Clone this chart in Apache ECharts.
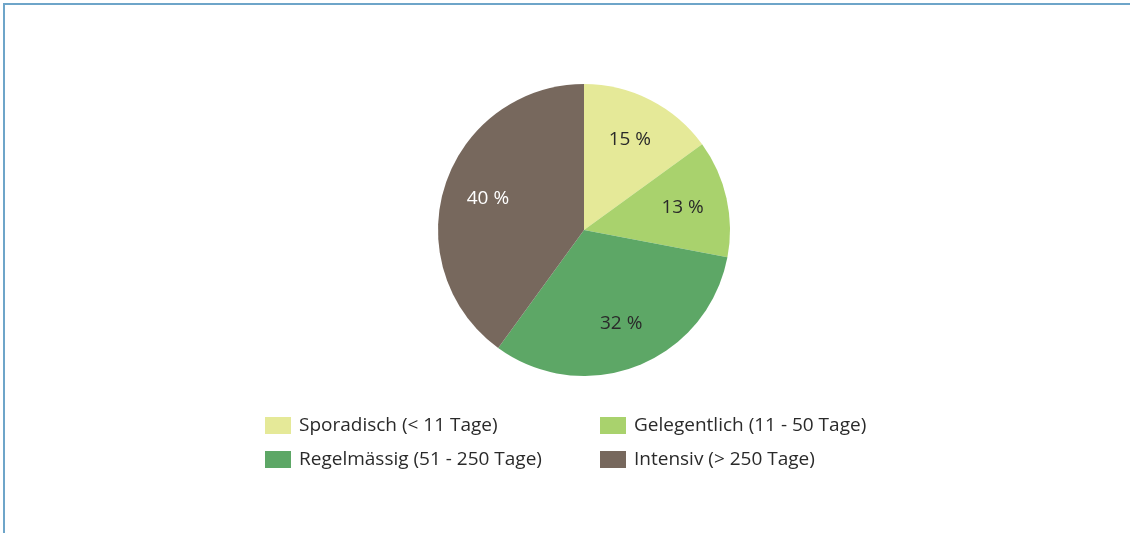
<!DOCTYPE html>
<html>
<head>
<meta charset="utf-8">
<script src="https://cdn.jsdelivr.net/npm/echarts@6/dist/echarts.min.js"></script>
<style>
  html, body { margin: 0; padding: 0; background: #fff; }
  #frame { position: absolute; left: 3px; top: 3px; width: 1127px; height: 530px;
    border-left: 2px solid #6ea5c9; border-top: 2px solid #6ea5c9; }
  #main { position: absolute; left: 0; top: 0; width: 1130px; height: 533px; }
</style>
</head>
<body>
<div id="frame"></div>
<div id="main"></div>
<script>
const categories = ['Sporadisch (< 11 Tage)', 'Gelegentlich (11 - 50 Tage)', 'Regelmässig (51 - 250 Tage)', 'Intensiv (> 250 Tage)']
const shares = [15, 13, 32, 40]
const colors = ['#e5e998', '#a9d26d', '#5da766', '#77685d']
const labelColors = ['#2a2a2a', '#2a2a2a', '#2a2a2a', '#fff']

const pieData = categories.map((name, i) => ({ name: name, value: shares[i], itemStyle: { color: colors[i] } }))
const labelData = categories.map((name, i) => ({
  name: name, value: shares[i],
  label: { color: labelColors[i] }
}))

let chart = echarts.init(document.getElementById('main'))
const legendText = { fontFamily: 'Open Sans', fontSize: 19, lineHeight: 17, color: '#2a2a2a', padding: [0, 0, 0, 3] }
chart.setOption({
  animation: false,
  legend: [
    { data: [categories[0], categories[2]], orient: 'vertical', left: 265, top: 416, padding: 0, icon: 'rect',
      itemWidth: 26, itemHeight: 17, itemGap: 15, textStyle: legendText },
    { data: [categories[1], categories[3]], orient: 'vertical', left: 600, top: 416, padding: 0, icon: 'rect',
      itemWidth: 26, itemHeight: 17, itemGap: 15, textStyle: legendText }
  ],
  series: [
    {
      type: 'pie', center: [584, 230], radius: [0, 146], startAngle: 90, clockwise: true,
      label: { show: false }, labelLine: { show: false }, silent: true,
      data: pieData
    },
    {
      // transparent helper ring to place labels further out than the default
      type: 'pie', center: [584, 230], radius: [0, 196], startAngle: 90, clockwise: true,
      silent: true, legendHoverLink: false,
      itemStyle: { color: 'transparent' },
      label: { show: true, position: 'inside', formatter: '{c} %', fontFamily: 'Open Sans', fontSize: 19 },
      labelLine: { show: false },
      data: labelData
    }
  ]
})
</script>
</body>
</html>
